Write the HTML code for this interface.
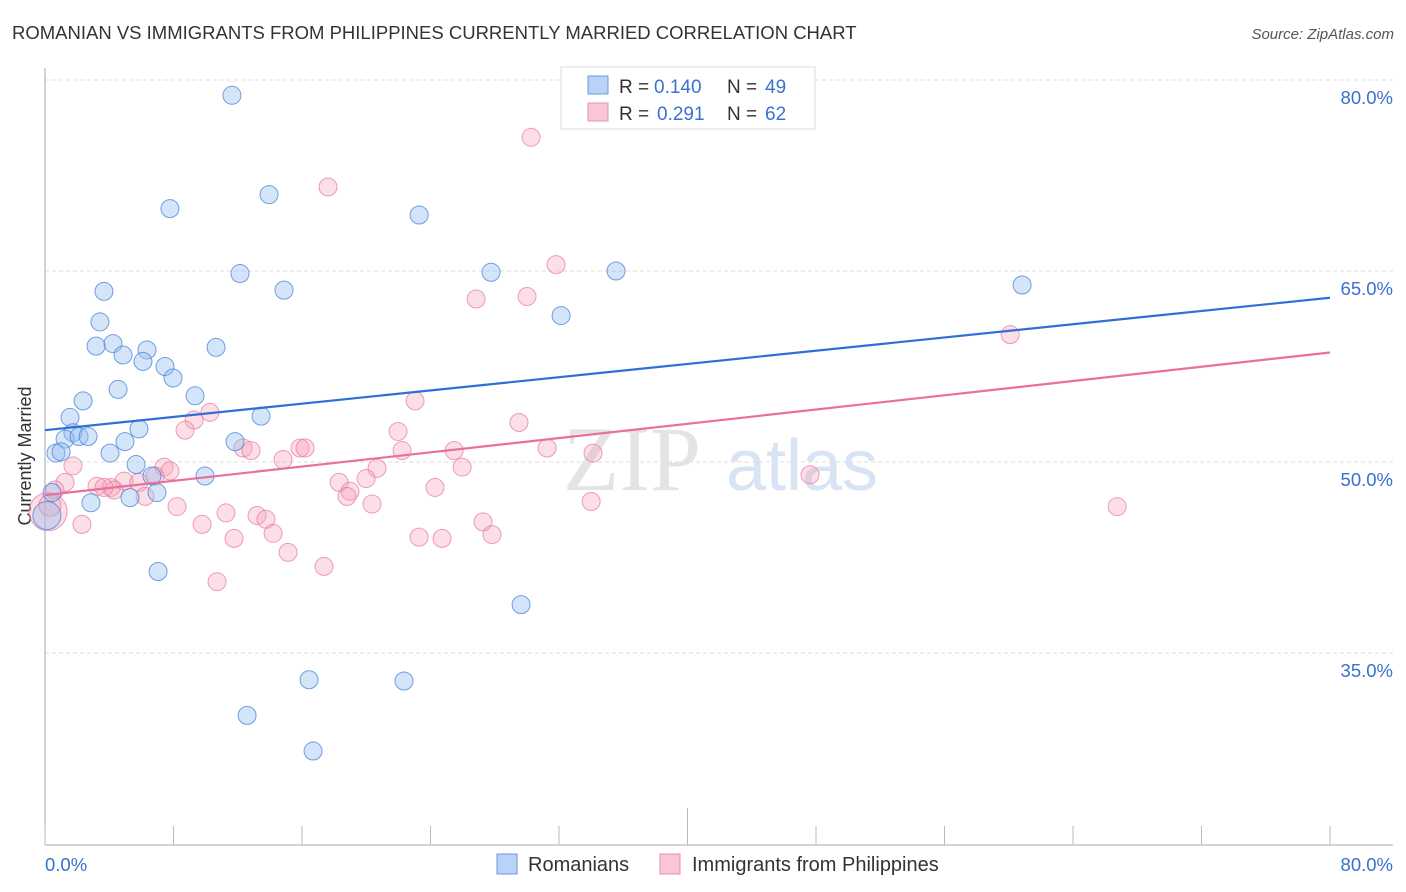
<!DOCTYPE html>
<html><head><meta charset="utf-8"><style>
body{margin:0;background:#fff;font-family:"Liberation Sans",sans-serif;}
svg{display:block}
</style></head><body>
<svg width="1406" height="892" xmlns="http://www.w3.org/2000/svg" id="chart">
<text x="12" y="39" font-size="18.5" fill="#333">ROMANIAN VS IMMIGRANTS FROM PHILIPPINES CURRENTLY MARRIED CORRELATION CHART</text>
<text x="1394" y="39" font-size="15" fill="#555" font-style="italic" text-anchor="end">Source: ZipAtlas.com</text>
<text x="31" y="456" font-size="18" fill="#333" text-anchor="middle" transform="rotate(-90 31 456)">Currently Married</text>
<g id="grid"></g>
<g>
<text x="632" y="490" font-size="92" fill="#e4e4e4" font-family="Liberation Serif,serif" text-anchor="middle">ZIP</text>
<text x="802" y="490" font-size="72" fill="#d8e4f4" text-anchor="middle">atlas</text>
</g>
<g id="axes"></g>
<g id="pts"></g>
<g id="lines"></g>
<g>
<rect x="561" y="67" width="254" height="62" fill="#fff" stroke="#ddd"/>
<rect x="588" y="76" width="20" height="18" fill="#b8d3f5" stroke="#6b9be0"/>
<rect x="588" y="103" width="20" height="18" fill="#f9c6d5" stroke="#e890ab"/>
<text x="619" y="93" font-size="19" fill="#333">R =</text>
<text x="654" y="93" font-size="19" fill="#3a70d0">0.140</text>
<text x="727" y="93" font-size="19" fill="#333">N =</text>
<text x="765" y="93" font-size="19" fill="#3a70d0">49</text>
<text x="619" y="120" font-size="19" fill="#333">R =</text>
<text x="657" y="120" font-size="19" fill="#3a70d0">0.291</text>
<text x="727" y="120" font-size="19" fill="#333">N =</text>
<text x="765" y="120" font-size="19" fill="#3a70d0">62</text>
</g>
<g>
<rect x="497" y="854" width="20" height="20" fill="#b8d3f5" stroke="#6b9be0"/>
<text x="528" y="871" font-size="20" fill="#333">Romanians</text>
<rect x="660" y="854" width="20" height="20" fill="#f9c6d5" stroke="#e890ab"/>
<text x="692" y="871" font-size="20" fill="#333">Immigrants from Philippines</text>
</g>
</svg>
<script>
const yTicks=[80,65,50,35];
const yTickLabels=["80.0%","65.0%","50.0%","35.0%"];
const xTicks=[0,8,16,24,32,40,48,56,64,72,80];
const blueX=[11.64,13.95,7.78,23.29,12.14,27.77,35.55,60.83,14.88,3.67,32.13,3.42,4.23,3.18,6.35,4.86,10.65,6.10,7.47,7.97,4.55,9.34,2.37,13.45,1.56,5.85,1.74,1.25,2.12,2.68,4.98,11.83,4.05,0.68,1.0,5.67,6.66,9.96,0.44,6.97,5.29,2.86,0.12,7.04,29.64,16.44,22.35,12.58,16.69];
const blueY=[78.8,71.0,69.9,69.4,64.8,64.9,65.0,63.9,63.5,63.4,61.5,61.0,59.3,59.1,58.8,58.4,59.0,57.9,57.5,56.6,55.7,55.2,54.8,53.6,53.5,52.6,52.3,51.8,52.0,52.0,51.6,51.6,50.7,50.7,50.8,49.8,48.9,48.9,47.6,47.6,47.2,46.8,45.8,41.4,38.8,32.9,32.8,30.1,27.3];
const pinkX=[30.26,17.62,31.82,26.84,30.01,60.09,10.27,23.04,9.28,8.72,29.51,21.98,12.33,12.83,15.88,16.19,31.26,22.23,25.47,34.12,14.82,1.74,7.41,7.78,20.67,25.97,47.63,6.85,4.92,5.85,18.31,19.99,1.25,3.24,4.11,4.30,3.67,24.28,0.62,18.99,18.80,6.23,34.0,8.22,20.36,66.75,11.27,13.2,13.76,2.30,9.78,27.27,14.2,23.29,24.72,27.83,11.77,15.13,17.37,10.71,0.19,0.31];
const pinkY=[75.5,71.6,65.5,62.8,63.0,60.0,53.9,54.8,53.3,52.5,53.1,52.4,51.1,50.9,51.1,51.1,51.1,50.9,50.9,50.7,50.2,49.7,49.6,49.3,49.5,49.6,49.0,48.9,48.5,48.4,48.4,48.7,48.4,48.1,48.0,47.8,48.0,48.0,47.8,47.7,47.3,47.3,46.9,46.5,46.7,46.5,46.0,45.8,45.5,45.1,45.1,45.3,44.4,44.1,44.0,44.3,44.0,42.9,41.8,40.6,46.1,46.6];
const blueTrend=[52.5,62.9];
const pinkTrend=[47.4,58.6];
const NS="http://www.w3.org/2000/svg";
const X=v=>45+v*16.0625;
const Y=v=>462-(v-50)*12.733;
function mk(tag,attrs,parent){const e=document.createElementNS(NS,tag);for(const k in attrs)e.setAttribute(k,attrs[k]);parent.appendChild(e);return e;}
const grid=document.getElementById('grid');
yTicks.forEach((t,i)=>{
 const l=mk('line',{x1:45,x2:1393,y1:Y(t),y2:Y(t),stroke:'#ddd','stroke-dasharray':'4,3'},grid);
 
 
 const tx=mk('text',{x:1393,y:Y(t)+24,'font-size':18.5,fill:'#3a70d0','text-anchor':'end'},grid);
 tx.textContent=yTickLabels[i];
 
 
});
const ax=document.getElementById('axes');
mk('line',{x1:45,x2:45,y1:68,y2:845,stroke:'#aaa'},ax);
mk('line',{x1:45,x2:1393,y1:845,y2:845,stroke:'#aaa'},ax);
xTicks.forEach((t,i)=>{
 const tk=mk('line',{x1:X(t),x2:X(t),y1:(i==5?808:826),y2:845,stroke:'#bbb'},ax);
 
 
});
const t0=mk('text',{x:45,y:871,'font-size':18.5,fill:'#3a70d0'},ax);t0.textContent='0.0%';


const t1=mk('text',{x:1393,y:871,'font-size':18.5,fill:'#3a70d0','text-anchor':'end'},ax);t1.textContent='80.0%';


const pts=document.getElementById('pts');
pinkX.forEach((x,i)=>{
 const r=i==pinkX.length-2?19:(i==pinkX.length-1?11:9);
 const c=mk('circle',{cx:X(x),cy:Y(pinkY[i]),r:r,fill:'rgba(245,160,185,0.35)',stroke:'rgba(230,120,155,0.7)','stroke-width':1},pts);
 
 
});
blueX.forEach((x,i)=>{
 const r=i==42?14:9;
 const c=mk('circle',{cx:X(x),cy:Y(blueY[i]),r:r,fill:'rgba(150,190,240,0.4)',stroke:'rgba(70,130,215,0.75)','stroke-width':1},pts);
 
 
});
const ln=document.getElementById('lines');
const b=mk('line',{x1:X(0),y1:Y(blueTrend[0]),x2:X(80),y2:Y(blueTrend[1]),stroke:'#2f6fd6','stroke-width':2.2},ln);


const p=mk('line',{x1:X(0),y1:Y(pinkTrend[0]),x2:X(80),y2:Y(pinkTrend[1]),stroke:'#e8709a','stroke-width':2.2},ln);


</script>
</body></html>
